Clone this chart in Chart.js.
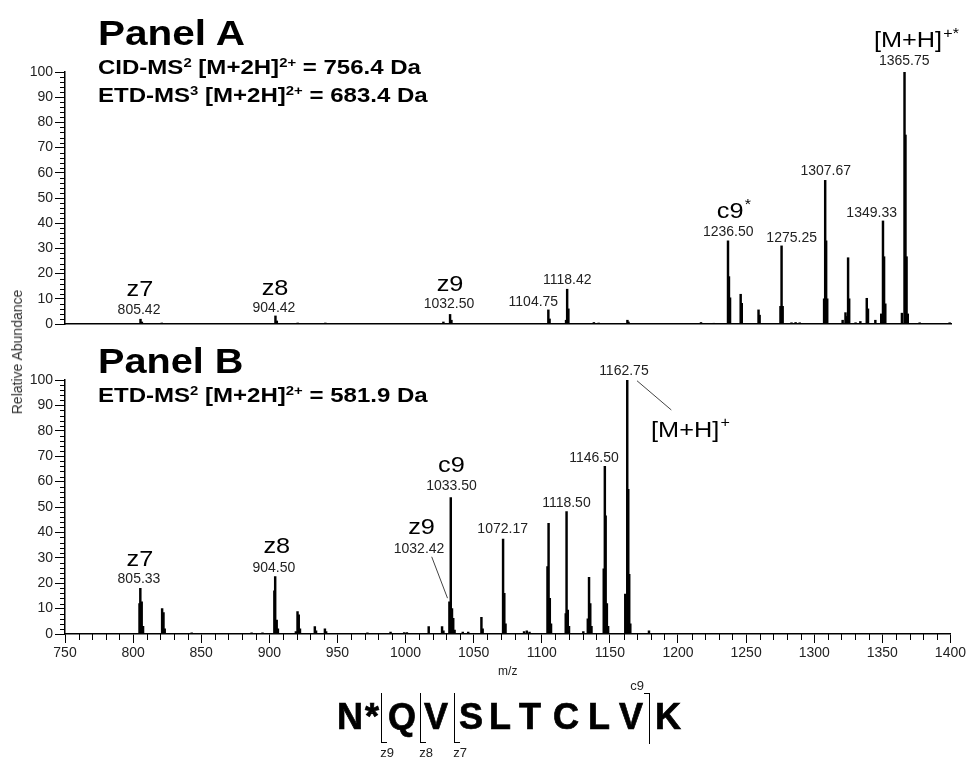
<!DOCTYPE html>
<html>
<head>
<meta charset="utf-8">
<title>CID / ETD spectra</title>
<script src="https://cdn.jsdelivr.net/npm/chart.js@4.4.1/dist/chart.umd.min.js"></script>
<style>
  html, body { margin: 0; padding: 0; background: #fff; }
  body { position: relative; width: 968px; height: 759px; overflow: hidden;
         font-family: "Liberation Sans", Arial, Helvetica, sans-serif; color: #000; }
  .box { position: absolute; left: 0; width: 968px; }
  #boxA { top: 0; height: 340px; }
  #boxB { top: 340px; height: 419px; }
  .ttl { position: absolute; left: 98px; font-weight: bold; white-space: nowrap; line-height: 1; transform-origin: 0 0; }
  .ttl sup { font-size: 0.62em; position: relative; top: -0.6em; vertical-align: baseline; line-height: 0; }
  #yTitle { position: absolute; left: 17px; top: 352px; transform: translate(-50%, -50%) rotate(-90deg);
            font-size: 14px; color: #333; white-space: nowrap; }
  .aa { position: absolute; top: 699px; font-weight: bold; font-size: 36px; line-height: 1;
        transform: translateX(-50%); -webkit-text-stroke: 0.7px #000; }
  .zb { position: absolute; top: 693px; height: 49px; width: 5px; border-left: 1.6px solid #000; border-bottom: 1.6px solid #000; }
  .cb { position: absolute; top: 693px; height: 50px; width: 5px; border-right: 1.6px solid #000; border-top: 1.6px solid #000; }
  .frag { position: absolute; font-size: 13px; line-height: 1; color: #222; transform: translateX(-50%); }
</style>
</head>
<body>
<div id="boxA" class="box"><canvas id="chartA" width="968" height="340"></canvas></div>
<div id="boxB" class="box"><canvas id="chartB" width="968" height="419"></canvas></div>

<div class="ttl" id="tA" style="top:15px;font-size:35px" data-w="147">Panel A</div>
<div class="ttl" id="tA1" style="top:57px;font-size:20px" data-w="323">CID-MS<sup>2</sup> [M+2H]<sup>2+</sup> = 756.4 Da</div>
<div class="ttl" id="tA2" style="top:85px;font-size:20px" data-w="329">ETD-MS<sup>3</sup> [M+2H]<sup>2+</sup> = 683.4 Da</div>
<div class="ttl" id="tB" style="top:343px;font-size:35px" data-w="145">Panel B</div>
<div class="ttl" id="tB1" style="top:385px;font-size:20px" data-w="329">ETD-MS<sup>2</sup> [M+2H]<sup>2+</sup> = 581.9 Da</div>
<div id="yTitle">Relative Abundance</div>

<div id="peptide"></div>

<script>
// ---- Panel A : CID-MS2 / ETD-MS3 (m/z, relative abundance) ----
const mzA = [
  805.4, 806.4, 821.0,
  904.4, 905.4, 920.7, 941.0,
  1027.6, 1032.5, 1033.5,
  1104.6, 1105.5, 1117.6, 1118.4, 1119.3,
  1138.0, 1141.5, 1162.6, 1163.4, 1216.6, 1226.0,
  1236.4, 1237.1, 1237.9, 1245.7, 1246.5, 1258.8, 1259.6,
  1274.9, 1275.7, 1276.5, 1283.0, 1286.0, 1289.0,
  1306.9, 1307.7, 1308.4, 1309.2,
  1320.5, 1322.6, 1323.4, 1324.5, 1325.3, 1330.0, 1333.5,
  1338.2, 1339.1, 1344.5, 1348.8, 1350.1, 1350.9, 1351.8,
  1364.0, 1365.9, 1366.6, 1367.4, 1368.3, 1377.0, 1399.0
];
const intA = [
  1.9, 0.8, 0.4,
  3.2, 1.2, 0.4, 0.4,
  0.8, 3.8, 1.5,
  5.6, 2.0, 1.5, 13.8, 6.0,
  0.6, 0.4, 1.5, 0.8, 0.6, 0.3,
  33.0, 18.8, 10.4, 11.8, 8.2, 5.6, 3.5,
  7.0, 31.0, 7.0, 0.5, 0.6, 0.5,
  10.0, 57.0, 33.0, 10.0,
  1.5, 4.5, 3.0, 26.3, 10.0, 0.5, 1.0,
  10.2, 6.0, 1.5, 4.0, 40.9, 26.7, 8.0,
  4.3, 100, 75.0, 26.7, 4.0, 0.5, 0.5
];

// ---- Panel B : ETD-MS2 ----
const mzB = [
  804.7, 805.3, 806.3, 807.3,
  821.3, 822.3, 823.2,
  843.0, 887.0, 895.0,
  903.7, 904.3, 905.4, 906.3,
  919.5, 920.7, 921.6, 922.5,
  933.4, 934.3, 940.8, 941.7,
  972.0, 989.0, 999.0, 1001.0,
  1017.0, 1026.8, 1027.8, 1032.2, 1033.2, 1034.1, 1035.0, 1036.0,
  1042.0, 1046.0, 1055.7, 1056.6,
  1071.6, 1072.5, 1073.4,
  1087.0, 1089.0, 1091.0,
  1104.2, 1105.0, 1105.9, 1106.8,
  1117.6, 1118.2, 1119.1, 1120.0,
  1130.5, 1133.8, 1134.7, 1135.6, 1136.5,
  1145.5, 1146.3, 1146.9, 1147.8, 1148.7,
  1161.3, 1162.75, 1163.5, 1164.2, 1165.0,
  1178.7
];
const intB = [
  12.0, 18.0, 12.7, 3.0,
  10.0, 8.4, 2.0,
  0.5, 0.5, 0.5,
  17.0, 22.6, 5.5, 2.0,
  1.0, 8.8, 7.5, 2.0,
  2.9, 1.2, 2.0, 1.0,
  0.5, 0.8, 0.6, 0.6,
  2.9, 2.9, 1.2, 12.7, 53.7, 10.0, 6.2, 1.5,
  0.8, 0.8, 6.6, 2.0,
  37.4, 16.0, 4.0,
  1.0, 1.2, 0.8,
  26.5, 43.6, 14.0, 4.0,
  8.0, 48.2, 9.4, 3.0,
  1.0, 6.0, 22.3, 12.0, 3.0,
  25.7, 66.0, 46.5, 12.0, 3.0,
  15.7, 100, 57.0, 23.5, 4.0,
  1.2
];

// axis ticks
const xTickValues = [750, 800, 850, 900, 950, 1000, 1050, 1100, 1150, 1200, 1250, 1300, 1350, 1400];
const yTickValues = [0, 10, 20, 30, 40, 50, 60, 70, 80, 90, 100];

// peak annotations (anchor m/z and abundance level of the text baseline)
const labelTextA  = ['z7', '805.42', 'z8', '904.42', 'z9', '1032.50', '1104.75', '1118.42', 'c9', '1236.50', '1275.25', '1307.67', '1349.33', '[M+H]', '1365.75'];
const labelSupA   = ['', '', '', '', '', '', '', '', '*', '', '', '', '', '+*', ''];
const labelMzA    = [805.0, 804.3, 904.1, 903.3, 1032.5, 1031.7, 1093.6, 1118.5, 1240.3, 1236.6, 1283.1, 1308.1, 1341.8, 1374.2, 1365.7];
const labelLevelA = [11.1, 4.0, 11.5, 4.9, 13.1, 6.2, 7.1, 15.9, 41.9, 34.9, 32.7, 59.1, 42.6, 110.0, 102.8];
const labelKindA  = ['ion', 'mass', 'ion', 'mass', 'ion', 'mass', 'mass', 'mass', 'ion', 'mass', 'mass', 'mass', 'mass', 'ion', 'mass'];

const labelTextB  = ['z7', '805.33', 'z8', '904.50', 'z9', '1032.42', 'c9', '1033.50', '1072.17', '1118.50', '1146.50', '1162.75', '[M+H]'];
const labelSupB   = ['', '', '', '', '', '', '', '', '', '', '', '', '+'];
const labelMzB    = [805.0, 804.3, 905.5, 903.3, 1011.7, 1009.9, 1033.7, 1033.7, 1071.3, 1118.1, 1138.3, 1160.3, 1208.7];
const labelLevelB = [26.8, 20.1, 31.9, 24.5, 39.3, 32.0, 63.9, 56.7, 39.6, 50.1, 67.6, 102.0, 77.7];
const labelKindB  = ['ion', 'mass', 'ion', 'mass', 'ion', 'mass', 'ion', 'mass', 'mass', 'mass', 'mass', 'mass', 'ion'];

// leader lines in panel B: [mz1, level1, mz2, level2]
const leadersB = [[1019.2, 30.4, 1030.8, 14.1], [1169.9, 99.7, 1195.1, 88.2]];

// peptide sequence with fragment brackets
const residues = ['N', '*', 'Q', 'V', 'S', 'L', 'T', 'C', 'L', 'V', 'K'];
const residueX = [350, 372, 402, 436, 471, 500, 530, 566, 599, 631, 668];

const FONT = '"Liberation Sans", Arial, Helvetica, sans-serif';

function points(mz, inten) {
  return mz.map((m, i) => ({ x: m, y: inten[i] }));
}

function labelList(text, sup, mz, level, kind) {
  return text.map((t, i) => ({ text: t, sup: sup[i], mz: mz[i], level: level[i], kind: kind[i] }));
}

function drawLabel(ctx, lab, px, py) {
  const big = lab.kind === 'ion';
  const size = big ? 22 : 14;
  const sx = big ? 1.15 : 1;
  const sy = big ? 1 : 1.1;
  const supSize = Math.round(size * 0.62);
  ctx.font = size + 'px ' + FONT;
  const w1 = ctx.measureText(lab.text).width;
  let w2 = 0;
  if (lab.sup) {
    ctx.font = supSize + 'px ' + FONT;
    w2 = ctx.measureText(lab.sup).width;
  }
  const total = (w1 + w2) * sx;
  ctx.save();
  ctx.translate(px - total / 2, py);
  ctx.scale(sx, sy);
  ctx.fillStyle = big ? '#000' : '#222';
  ctx.textAlign = 'left';
  ctx.textBaseline = 'alphabetic';
  ctx.font = size + 'px ' + FONT;
  ctx.fillText(lab.text, 0, 0);
  if (lab.sup) {
    ctx.font = supSize + 'px ' + FONT;
    ctx.fillText(lab.sup, w1 + 1, -size * 0.42);
  }
  ctx.restore();
}

// minor ticks + peak annotations
const decorPlugin = {
  id: 'decor',
  afterDraw(chart, args, opts) {
    const ctx = chart.ctx;
    const xs = chart.scales.x, ys = chart.scales.y;
    ctx.save();
    ctx.strokeStyle = '#000';
    ctx.lineWidth = 1;
    ctx.beginPath();
    for (let v = 2; v < 100; v += 2) {
      if (v % 10 === 0) continue;
      const py = Math.round(ys.getPixelForValue(v)) + 0.5;
      ctx.moveTo(xs.left - 5, py);
      ctx.lineTo(xs.left, py);
    }
    if (opts.minorX) {
      for (let v = 760; v < 1400; v += 10) {
        if (v % 50 === 0) continue;
        const px = Math.round(xs.getPixelForValue(v)) + 0.5;
        ctx.moveTo(px, ys.bottom);
        ctx.lineTo(px, ys.bottom + 6);
      }
    }
    ctx.stroke();

    (opts.leaders || []).forEach(l => {
      ctx.strokeStyle = '#444';
      ctx.beginPath();
      ctx.moveTo(xs.getPixelForValue(l[0]), ys.getPixelForValue(l[1]));
      ctx.lineTo(xs.getPixelForValue(l[2]), ys.getPixelForValue(l[3]));
      ctx.stroke();
    });

    (opts.labels || []).forEach(lab => {
      drawLabel(ctx, lab, xs.getPixelForValue(lab.mz), ys.getPixelForValue(lab.level));
    });
    ctx.restore();
  }
};

function spectrum(canvasId, mz, inten, labels, showX, leaders) {
  const xScale = {
    type: 'linear',
    min: 750,
    max: 1400,
    offset: false,
    afterBuildTicks: s => { s.ticks = xTickValues.map(v => ({ value: v })); },
    afterFit: s => { s.height = showX ? 45 : 16; },
    border: { display: true, color: '#000', width: 1.5 },
    grid: { display: showX, drawOnChartArea: false, offset: false, tickLength: 9, color: '#000', lineWidth: 1 },
    ticks: {
      display: showX, font: { family: FONT, size: 14 }, color: '#222', padding: 2,
      maxRotation: 0, autoSkip: false, callback: v => String(v)
    },
    title: { display: showX, text: 'm/z', font: { family: FONT, size: 12 }, color: '#222', padding: { top: 0, bottom: 0 } }
  };
  const yScale = {
    type: 'linear',
    min: 0,
    max: 100,
    afterBuildTicks: s => { s.ticks = yTickValues.map(v => ({ value: v })); },
    afterFit: s => { s.width = 65; },
    border: { display: true, color: '#000', width: 1.5 },
    grid: { drawOnChartArea: false, tickLength: 10, color: '#000', lineWidth: 1 },
    ticks: { font: { family: FONT, size: 14 }, color: '#222', padding: 2, callback: v => String(v) }
  };
  return new Chart(document.getElementById(canvasId), {
    type: 'bar',
    data: {
      datasets: [{
        data: points(mz, inten),
        backgroundColor: '#000',
        borderWidth: 0,
        barThickness: 1.8
      }]
    },
    options: {
      responsive: false,
      animation: false,
      events: [],
      layout: { padding: { top: showX ? 40 : 72, right: 17, bottom: showX ? 80 : 0, left: 0 } },
      scales: { x: xScale, y: yScale },
      plugins: {
        legend: { display: false },
        tooltip: { enabled: false },
        decor: { labels: labels, minorX: showX, leaders: leaders || [] }
      }
    },
    plugins: [decorPlugin]
  });
}

spectrum('chartA', mzA, intA, labelList(labelTextA, labelSupA, labelMzA, labelLevelA, labelKindA), false);
spectrum('chartB', mzB, intB, labelList(labelTextB, labelSupB, labelMzB, labelLevelB, labelKindB), true, leadersB);

// stretch title lines to the measured widths
document.querySelectorAll('.ttl').forEach(el => {
  const target = +el.dataset.w;
  el.style.transform = 'scaleX(' + (target / el.offsetWidth).toFixed(3) + ')';
});

// peptide sequence
const pep = document.getElementById('peptide');
residues.forEach((r, i) => {
  const s = document.createElement('span');
  s.className = 'aa';
  s.style.left = residueX[i] + 'px';
  s.textContent = r;
  pep.appendChild(s);
});
[[381, 'z9'], [420, 'z8'], [454, 'z7']].forEach(b => {
  const d = document.createElement('div');
  d.className = 'zb';
  d.style.left = b[0] + 'px';
  pep.appendChild(d);
  const t = document.createElement('span');
  t.className = 'frag';
  t.style.left = (b[0] + 6) + 'px';
  t.style.top = '746px';
  t.textContent = b[1];
  pep.appendChild(t);
});
const cb = document.createElement('div');
cb.className = 'cb';
cb.style.left = '644px';
pep.appendChild(cb);
const c9 = document.createElement('span');
c9.className = 'frag';
c9.style.left = '637px';
c9.style.top = '679px';
c9.textContent = 'c9';
pep.appendChild(c9);
</script>
</body>
</html>
